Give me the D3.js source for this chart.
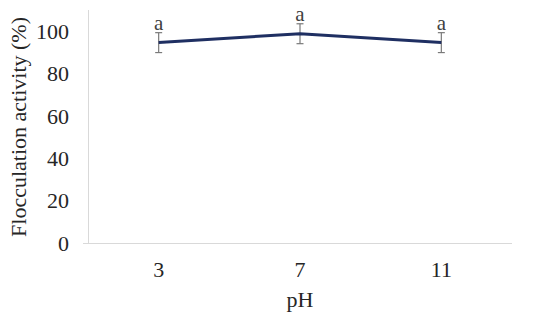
<!DOCTYPE html>
<html lang="en">
<head>
  <meta charset="UTF-8" />
  <title>Flocculation activity vs pH</title>
  <style>
    html, body { margin: 0; background: #fff; }
    svg { display: block; font-family: "Liberation Serif", "Times New Roman", serif; }
  </style>
  <script src="https://d3js.org/d3.v7.min.js"></script>
</head>
<body>
  <svg id="chart" width="550" height="321"></svg>
  <script>
    // data
    const phLevels = ["3", "7", "11"];
    const activity = [94.6, 98.8, 94.6];
    const errors = [4.7, 4.7, 4.7];
    const letters = ["a", "a", "a"];
    const yTicks = [0, 20, 40, 60, 80, 100];

    const svg = d3.select("#chart");
    const plotLeft = 88, plotRight = 512, plotTop = 10, plotBottom = 243;

    const x = d3.scaleBand().domain(phLevels).range([plotLeft, plotRight]);
    const y = d3.scaleLinear().domain([0, 110]).range([plotBottom, plotTop]);

    // axis lines
    svg.append("line")
      .attr("x1", plotLeft + 0.5).attr("x2", plotLeft + 0.5)
      .attr("y1", plotTop).attr("y2", plotBottom)
      .attr("stroke", "#d9d9d9").attr("stroke-width", 1);
    svg.append("line")
      .attr("x1", plotLeft - 5).attr("x2", plotRight)
      .attr("y1", plotBottom + 0.5).attr("y2", plotBottom + 0.5)
      .attr("stroke", "#d9d9d9").attr("stroke-width", 1);

    // y tick labels
    svg.selectAll(".ytick")
      .data(yTicks)
      .enter().append("text")
      .attr("x", plotLeft - 19)
      .attr("y", d => y(d))
      .attr("dy", "0.35em")
      .attr("text-anchor", "end")
      .attr("font-size", 22)
      .attr("fill", "#262626")
      .text(d => d);

    // x tick labels
    svg.selectAll(".xtick")
      .data(phLevels)
      .enter().append("text")
      .attr("x", d => x(d) + x.bandwidth() / 2)
      .attr("y", 277)
      .attr("text-anchor", "middle")
      .attr("font-size", 22)
      .attr("fill", "#262626")
      .text(d => d);

    // axis titles
    svg.append("text")
      .attr("x", 300).attr("y", 307)
      .attr("text-anchor", "middle")
      .attr("font-size", 22)
      .attr("fill", "#262626")
      .text("pH");
    svg.append("text")
      .attr("transform", "translate(26,127) rotate(-90)")
      .attr("text-anchor", "middle")
      .attr("font-size", 22)
      .attr("fill", "#262626")
      .text("Flocculation activity (%)");

    const cx = i => x(phLevels[i]) + x.bandwidth() / 2;

    // error bars
    const eb = svg.selectAll(".err")
      .data(activity)
      .enter().append("g")
      .attr("stroke", "#7a7a7a")
      .attr("stroke-width", 1.2);
    eb.append("line")
      .attr("x1", (d, i) => cx(i)).attr("x2", (d, i) => cx(i))
      .attr("y1", (d, i) => y(d + errors[i])).attr("y2", (d, i) => y(d - errors[i]));
    eb.append("line")
      .attr("x1", (d, i) => cx(i) - 3.5).attr("x2", (d, i) => cx(i) + 3.5)
      .attr("y1", (d, i) => y(d + errors[i])).attr("y2", (d, i) => y(d + errors[i]));
    eb.append("line")
      .attr("x1", (d, i) => cx(i) - 3.5).attr("x2", (d, i) => cx(i) + 3.5)
      .attr("y1", (d, i) => y(d - errors[i])).attr("y2", (d, i) => y(d - errors[i]));

    // line
    const line = d3.line()
      .x((d, i) => cx(i))
      .y(d => y(d));
    svg.append("path")
      .datum(activity)
      .attr("d", line)
      .attr("fill", "none")
      .attr("stroke", "#1f2f62")
      .attr("stroke-width", 3);

    // significance letters
    svg.selectAll(".letter")
      .data(letters)
      .enter().append("text")
      .attr("x", (d, i) => cx(i))
      .attr("y", (d, i) => y(activity[i] + errors[i]) - 3)
      .attr("text-anchor", "middle")
      .attr("font-size", 21)
      .attr("fill", "#404040")
      .text(d => d);
  </script>
</body>
</html>
